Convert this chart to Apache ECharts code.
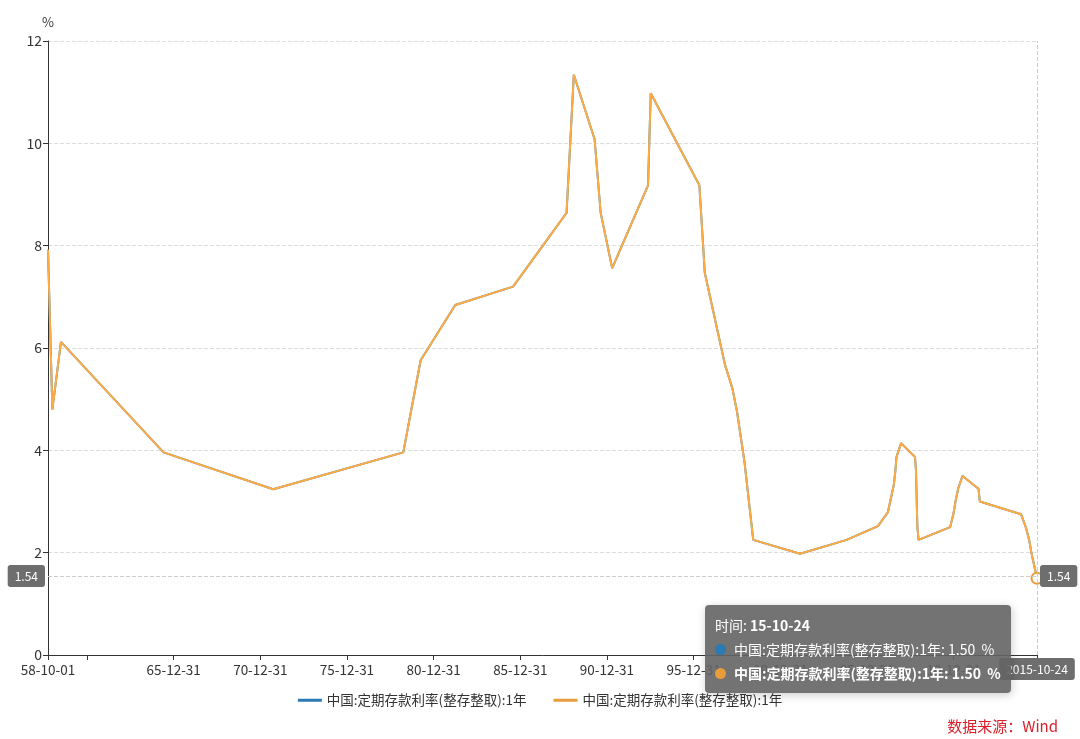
<!DOCTYPE html>
<html><head><meta charset="utf-8">
<script src="https://cdn.jsdelivr.net/npm/echarts@6/dist/echarts.min.js"></script>
<style>html,body{margin:0;padding:0;background:#fff}#c{width:1080px;height:739px}</style>
</head><body><div id="c"></div>
<script>
const seriesName = '中国:定期存款利率(整存整取):1年';
const dates = ['1958-10-01','1959-01-01','1959-07-01','1965-06-01','1971-10-01','1979-04-01','1980-04-01','1982-04-01','1985-08-01','1988-09-01','1989-02-01','1990-04-15','1990-08-21','1991-04-21','1993-05-15','1993-07-11','1996-05-01','1996-08-23','1997-10-23','1998-03-25','1998-07-01','1998-12-07','1999-06-10','2002-02-21','2004-10-29','2006-08-19','2007-03-18','2007-05-19','2007-07-21','2007-08-22','2007-09-15','2007-12-21','2008-10-09','2008-10-30','2008-11-27','2008-12-23','2010-10-20','2010-12-26','2011-02-09','2011-04-06','2011-07-07','2012-06-08','2012-07-06','2014-11-22','2015-03-01','2015-05-11','2015-06-28','2015-08-26','2015-10-24'];
const rates = [7.92,4.80,6.12,3.96,3.24,3.96,5.76,6.84,7.20,8.64,11.34,10.08,8.64,7.56,9.18,10.98,9.18,7.47,5.67,5.22,4.77,3.78,2.25,1.98,2.25,2.52,2.79,3.06,3.33,3.60,3.87,4.14,3.87,3.60,2.52,2.25,2.50,2.75,3.00,3.25,3.50,3.25,3.00,2.75,2.50,2.25,2.00,1.75,1.50];
const tickDates = ['1958-10-01','1960-12-31','1965-12-31','1970-12-31','1975-12-31','1980-12-31','1985-12-31','1990-12-31','1995-12-31','2000-12-31','2005-12-31','2010-12-31','2015-10-24'];
const labelDates = ['1958-10-01','1965-12-31','1970-12-31','1975-12-31','1980-12-31','1985-12-31','1990-12-31','1995-12-31','2000-12-31','2005-12-31','2010-12-31','2015-10-24'];
const yTicks = [0,2,4,6,8,10,12];

function ts(s){ const p=s.split('-'); return Date.UTC(+p[0], +p[1]-1, +p[2]); }
function pad(n){ return (n<10?'0':'')+n; }
function fmtShort(v){ const d=new Date(v); return String(d.getUTCFullYear()).slice(2)+'-'+pad(d.getUTCMonth()+1)+'-'+pad(d.getUTCDate()); }
function fmtLong(v){ const d=new Date(v); return d.getUTCFullYear()+'-'+pad(d.getUTCMonth()+1)+'-'+pad(d.getUTCDate()); }

const data = dates.map((d,i)=>[ts(d), rates[i]]);
const blue = '#2a7ab3', orange = '#e89c3c';
const font = '"Microsoft YaHei","Noto Sans CJK SC",sans-serif';

const chart = echarts.init(document.getElementById('c'));
chart.setOption({
  animation: false,
  textStyle: {fontFamily: font},
  grid: {left: 48, right: 43, top: 41, bottom: 84},
  legend: {
    bottom: 27, left: 'center', itemWidth: 24, itemHeight: 3, itemGap: 24,
    textStyle: {color: '#333', fontSize: 13.5, fontFamily: font},
    data: [{name: seriesName+' ', icon: 'rect', itemStyle:{color: blue}}, {name: seriesName, icon:'rect', itemStyle:{color: orange}}]
  },
  tooltip: {
    trigger: 'axis',
    position: [705, 605],
    backgroundColor: 'rgba(100,100,100,0.9)',
    borderWidth: 0,
    padding: [8, 10],
    textStyle: {color: '#fff', fontSize: 14, fontFamily: font},
    axisPointer: {type: 'cross', lineStyle: {color: '#ccc', type: 'dashed'}, crossStyle:{color:'#ccc', type:'dashed'},
      label: {backgroundColor: '#6e6e6e', color: '#fff', fontSize: 12}},
    formatter: function(ps){
      let s = '时间: <b>' + fmtShort(ps[0].value[0]) + '</b>';
      ps.forEach((p,i)=>{
        const c = i===0?blue:orange;
        const dot = '<span style="display:inline-block;width:11px;height:11px;border-radius:6px;background:'+c+';margin-right:8px"></span>';
        const line = seriesName + ': ' + p.value[1].toFixed(2) + '&nbsp; %';
        s += '<br/>' + dot + (i===1 ? '<b>'+line+'</b>' : line);
      });
      return '<div style="line-height:24px">'+s+'</div>';
    }
  },
  xAxis: {
    type: 'value',
    min: ts('1958-10-01'), max: ts('2015-10-24'),
    axisLine: {onZero: false, lineStyle: {color: '#333'}},
    axisTick: {show: true, length: 5, customValues: tickDates.map(ts), lineStyle:{color:'#333'}},
    axisLabel: {customValues: labelDates.map(ts), formatter: v=>fmtShort(v), color: '#333', fontSize: 13.5, margin: 8, showMinLabel: true, showMaxLabel: true, hideOverlap: false},
    splitLine: {show: false},
    axisPointer: {snap: true, label: {formatter: p=>fmtLong(p.value)}}
  },
  yAxis: [{
    type: 'value', min: 0, max: 12, interval: 2, name: '%',
    nameTextStyle: {color: '#333', fontSize: 13, padding: [0, 0, 0, 0]},
    nameGap: 12,
    axisLine: {show: true, onZero: false, lineStyle: {color: '#333'}},
    axisTick: {show: true, length: 5, lineStyle:{color:'#333'}},
    axisLabel: {color: '#333', fontSize: 14, margin: 6},
    splitLine: {lineStyle: {color: '#ddd', type: 'dashed'}},
    axisPointer: {label: {formatter: p=>p.value.toFixed(2)}}
  },{
    type: 'value', min: 0, max: 12, interval: 2, position: 'right',
    axisLine: {show: false, onZero: false}, axisTick: {show: false}, axisLabel: {show: false}, splitLine: {show: false},
    axisPointer: {label: {formatter: p=>p.value.toFixed(2)}}
  }],
  series: [
    {name: seriesName+' ', type: 'line', data: data, showSymbol: false, symbolSize: 8, color: blue, lineStyle: {width: 2, color: blue}, yAxisIndex: 0},
    {name: seriesName, type: 'line', data: data, showSymbol: false, symbolSize: 10, color: orange, lineStyle: {width: 2, color: orange}, yAxisIndex: 1}
  ],
  graphic: [{type: 'text', right: 22, bottom: 5, style: {text: '数据来源：Wind', fill: '#d9202a', fontSize: 15, fontFamily: font}}]
});
setTimeout(function(){
  chart.dispatchAction({type: 'showTip', x: 1037, y: 576});
}, 50);
</script></body></html>
